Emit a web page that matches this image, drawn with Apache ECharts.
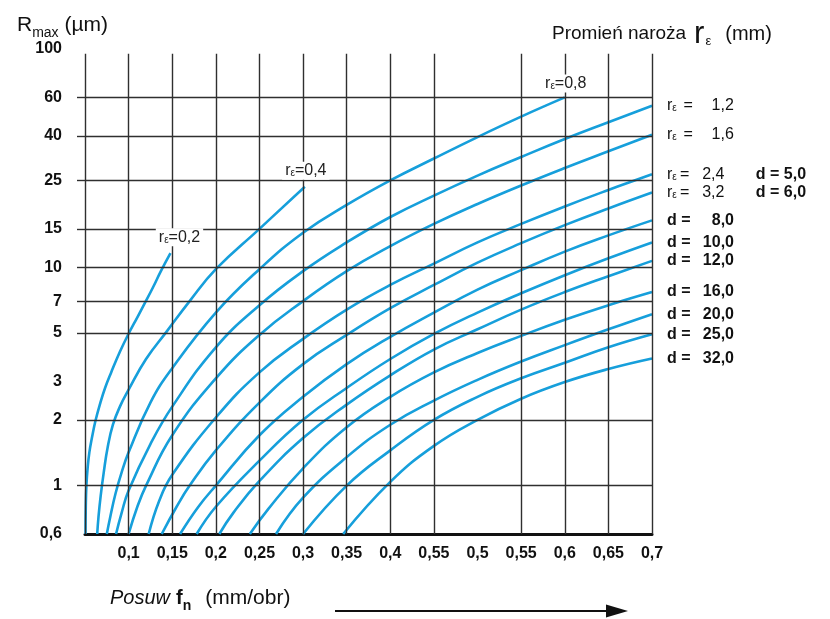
<!DOCTYPE html>
<html>
<head>
<meta charset="utf-8">
<script src="https://cdn.jsdelivr.net/npm/echarts@6/dist/echarts.min.js"></script>
<style>html,body{margin:0;padding:0;background:#fff;}#chart{width:830px;height:619px;}</style>
</head>
<body>
<div id="chart"></div>
<script>
// ---- data ----
const xTickLabels = ['', '0,1', '0,15', '0,2', '0,25', '0,3', '0,35', '0,4', '0,55', '0,5', '0,55', '0,6', '0,65', '0,7'];
const yLabelValues = [0.6, 1, 2, 3, 5, 7, 10, 15, 25, 40, 60, 100];
const yGridValues = [1, 2, 5, 7, 10, 15, 25, 40, 60];
const xGridValues = [0.05, 0.1, 0.15, 0.2, 0.25, 0.3, 0.35, 0.4, 0.45, 0.55, 0.6, 0.65, 0.7];
const gridTopValue = 95;

const c02 = [[0.0506,0.6],[0.0509,0.8],[0.0516,1.0],[0.053,1.2],[0.055,1.42],[0.058,1.66],[0.062,1.98],[0.067,2.35],[0.073,2.8],[0.08,3.3],[0.09,4.1],[0.0993,4.9],[0.11,5.9],[0.119,6.9],[0.128,8.1],[0.137,9.6],[0.148,11.6]];
const c04 = [[0.064,0.6],[0.0655,0.72],[0.068,0.9],[0.0715,1.15],[0.076,1.5],[0.082,1.9],[0.09,2.3],[0.1,2.75],[0.12,3.8],[0.144,5.1],[0.17,7.0],[0.2,9.8],[0.25,15.0],[0.302,23.4]];
const c08 = [[0.075,0.6],[0.079,0.72],[0.085,0.92],[0.092,1.15],[0.1,1.42],[0.125,2.4],[0.15,3.45],[0.2,6.2],[0.25,9.8],[0.3,14.4],[0.35,19.3],[0.4,25.0],[0.45,31.5],[0.5,39.5],[0.55,49.0],[0.6,60.0]];
const c12 = [[0.0856,0.6],[0.092,0.75],[0.1,0.95],[0.125,1.55],[0.15,2.3],[0.2,4.3],[0.25,6.7],[0.3,9.6],[0.35,13.0],[0.4,17.0],[0.45,21.3],[0.5,26.3],[0.55,32.0],[0.6,38.7],[0.65,46.2],[0.7,55.0]];
const c16 = [[0.1,0.6],[0.11,0.8],[0.12,1.0],[0.15,1.7],[0.2,3.1],[0.25,4.9],[0.3,7.0],[0.35,9.6],[0.4,12.5],[0.45,15.8],[0.5,19.5],[0.55,23.7],[0.6,28.5],[0.65,34.0],[0.7,40.5]];
const c24 = [[0.123,0.6],[0.135,0.85],[0.15,1.12],[0.2,2.05],[0.25,3.3],[0.3,4.7],[0.35,6.4],[0.4,8.3],[0.45,10.4],[0.5,13.0],[0.55,15.8],[0.6,19.0],[0.65,22.6],[0.7,26.7]];
const c32 = [[0.138,0.6],[0.155,0.8],[0.17,1.0],[0.2,1.45],[0.25,2.4],[0.3,3.6],[0.35,4.9],[0.4,6.5],[0.45,8.3],[0.5,10.5],[0.55,12.9],[0.6,15.6],[0.65,18.6],[0.7,22.0]];
const c40 = [[0.159,0.6],[0.18,0.8],[0.2,1.0],[0.25,1.7],[0.3,2.55],[0.35,3.6],[0.4,4.8],[0.45,6.2],[0.5,7.9],[0.55,9.7],[0.6,11.8],[0.65,14.0],[0.7,16.4]];
const c50 = [[0.178,0.6],[0.2,0.8],[0.25,1.3],[0.3,2.0],[0.35,2.8],[0.4,3.8],[0.45,4.95],[0.5,6.2],[0.55,7.6],[0.6,9.2],[0.65,11.0],[0.7,13.0]];
const c60 = [[0.204,0.6],[0.22,0.75],[0.25,1.05],[0.3,1.65],[0.35,2.35],[0.4,3.2],[0.45,4.2],[0.5,5.2],[0.55,6.4],[0.6,7.7],[0.65,9.1],[0.7,10.7]];
const c80 = [[0.239,0.6],[0.26,0.78],[0.3,1.2],[0.35,1.85],[0.4,2.55],[0.45,3.3],[0.5,4.05],[0.55,4.85],[0.6,5.75],[0.65,6.7],[0.7,7.7]];
const c100 = [[0.269,0.6],[0.3,0.88],[0.35,1.35],[0.4,1.9],[0.45,2.45],[0.5,3.05],[0.55,3.7],[0.6,4.4],[0.65,5.2],[0.7,6.1]];
const c125 = [[0.30,0.6],[0.35,1.0],[0.4,1.45],[0.45,2.0],[0.5,2.55],[0.55,3.1],[0.6,3.65],[0.65,4.3],[0.7,4.93]];
const c160 = [[0.346,0.6],[0.4,1.04],[0.45,1.52],[0.5,2.0],[0.55,2.5],[0.6,2.98],[0.65,3.42],[0.7,3.82]];

const curves = [c02, c04, c08, c12, c16, c24, c32, c40, c50, c60, c80, c100, c125, c160];
const seriesNames = ['rε=0,2','rε=0,4','rε=0,8','rε=1,2','rε=1,6','rε=2,4 d=5,0','rε=3,2 d=6,0','d=8,0','d=10,0','d=12,0','d=16,0','d=20,0','d=25,0','d=32,0'];
const topLabels = ['{r|r}{e|ε}{t|=0,2}', '{r|r}{e|ε}{t|=0,4}', '{r|r}{e|ε}{t|=0,8}'];
const rightLabels = [null, null, null,
  '{r|r}{e|ε}{q|=}{v|1,2}',
  '{r|r}{e|ε}{q|=}{v|1,6}',
  '{r|r}{e|ε}{q|=}{v|2,4}{d|d = 5,0}',
  '{r|r}{e|ε}{q|=}{v|3,2}{d|d = 6,0}',
  '{k|d =}{w|8,0}', '{k|d =}{w|10,0}', '{k|d =}{w|12,0}', '{k|d =}{w|16,0}',
  '{k|d =}{w|20,0}', '{k|d =}{w|25,0}', '{k|d =}{w|32,0}'];

// ---- chart ----
const FONT = 'Liberation Sans, Arial, Helvetica, sans-serif';
const CURVE = '#169fdb';
const GRIDC = '#2f2f2f';

const richRight = {
  r: {fontSize: 16, color: '#111', fontFamily: FONT},
  e: {fontSize: 10, color: '#111', fontFamily: FONT, verticalAlign: 'bottom', lineHeight: 14},
  q: {fontSize: 16, color: '#111', fontFamily: FONT, width: 16, align: 'right'},
  v: {fontSize: 16, color: '#111', fontFamily: FONT, width: 41, align: 'right'},
  d: {fontSize: 16, color: '#111', fontFamily: FONT, fontWeight: 'bold', padding: [0, 0, 0, 22]},
  k: {fontSize: 16, color: '#111', fontFamily: FONT, fontWeight: 'bold', width: 27},
  w: {fontSize: 16, color: '#111', fontFamily: FONT, fontWeight: 'bold', width: 40, align: 'right'}
};
const richTop = {
  r: {fontSize: 16, color: '#222', fontFamily: FONT},
  e: {fontSize: 10, color: '#222', fontFamily: FONT, verticalAlign: 'bottom', lineHeight: 14},
  t: {fontSize: 16, color: '#222', fontFamily: FONT}
};
const topOffsets = [[9, 0], [1, 0], [1, 2]];

const series = [];
// grid lines (drawn through the axes' scales)
series.push({
  type: 'line', data: [], z: 1, silent: true,
  markLine: {
    silent: true, symbol: 'none', animation: false,
    label: {show: false},
    lineStyle: {color: GRIDC, width: 1.4, type: 'solid'},
    data: yGridValues.map(v => ({yAxis: v}))
      .concat(xGridValues.map(x => [{coord: [x, 0.6]}, {coord: [x, gridTopValue]}]))
  }
});

curves.forEach((c, i) => {
  const s = {
    name: seriesNames[i], type: 'line', data: c, smooth: 0.45, symbol: 'none', z: 3,
    lineStyle: {color: CURVE, width: 2.6}
  };
  if (rightLabels[i]) {
    s.endLabel = {show: true, formatter: rightLabels[i], distance: 15, rich: richRight, color: '#111'};
  }
  if (i < 3) {
    s.markPoint = {
      symbol: 'circle', symbolSize: 0, silent: true,
      data: [{coord: c[c.length - 1]}],
      label: {show: true, position: 'top', distance: 7, formatter: topLabels[i], rich: richTop,
        backgroundColor: '#fff', padding: [1, 3, 1, 3], offset: topOffsets[i]}
    };
  }
  series.push(s);
});

const option = {
  animation: false,
  backgroundColor: '#fff',
  textStyle: {fontFamily: FONT},
  grid: {left: 85, right: 178, top: 49, bottom: 85},
  title: [
    {left: 12, top: 5, text: '{a|R}{b|max}{a| (µm)}',
      textStyle: {fontWeight: 'normal', rich: {
        a: {fontSize: 21, fontWeight: 'normal', color: '#111', fontFamily: FONT, lineHeight: 30, verticalAlign: 'middle'},
        b: {fontSize: 14, fontWeight: 'normal', color: '#111', fontFamily: FONT, verticalAlign: 'bottom', lineHeight: 14}
      }}},
    {left: 547, top: 15, text: '{a|Promień naroża}{r|r}{e|ε}{m|(mm)}',
      textStyle: {fontWeight: 'normal', rich: {
        a: {fontSize: 19, fontWeight: 'normal', color: '#111', fontFamily: FONT, lineHeight: 28, verticalAlign: 'middle'},
        r: {fontSize: 31, fontWeight: 'normal', color: '#111', fontFamily: FONT, lineHeight: 28, verticalAlign: 'middle', padding: [0, 1, 0, 8]},
        e: {fontSize: 13, fontWeight: 'normal', color: '#111', fontFamily: FONT, verticalAlign: 'bottom', lineHeight: 15},
        m: {fontSize: 20, fontWeight: 'normal', color: '#111', fontFamily: FONT, lineHeight: 28, verticalAlign: 'middle', padding: [0, 0, 0, 14]}
      }}},
    {left: 105, top: 578, text: '{i|Posuw}{f|f}{n|n}{m|(mm/obr)}',
      textStyle: {fontWeight: 'normal', rich: {
        i: {fontSize: 20, fontWeight: 'normal', color: '#111', fontFamily: FONT, fontStyle: 'italic', lineHeight: 30, verticalAlign: 'middle'},
        f: {fontSize: 20, fontWeight: 'bold', color: '#111', fontFamily: FONT, lineHeight: 30, verticalAlign: 'middle', padding: [0, 0, 0, 6]},
        n: {fontSize: 14, fontWeight: 'bold', color: '#111', fontFamily: FONT, verticalAlign: 'bottom', lineHeight: 16},
        m: {fontSize: 21, fontWeight: 'normal', color: '#111', fontFamily: FONT, lineHeight: 30, verticalAlign: 'middle', padding: [0, 0, 0, 14]}
      }}}
  ],
  xAxis: {
    type: 'value', min: 0.05, max: 0.7, interval: 0.05,
    axisLine: {show: true, onZero: false, lineStyle: {color: '#111', width: 3}},
    axisTick: {show: false},
    splitLine: {show: false},
    axisLabel: {
      show: true, color: '#111', fontSize: 16, fontWeight: 'bold', margin: 12,
      showMinLabel: true, showMaxLabel: true,
      formatter: v => xTickLabels[Math.round((v - 0.05) / 0.05)] || ''
    }
  },
  yAxis: {
    type: 'log', logBase: 10, min: 0.6, max: 100,
    axisLine: {show: false},
    splitLine: {show: false},
    axisTick: {show: true, customValues: yGridValues, length: 8, lineStyle: {color: GRIDC, width: 1.4}},
    axisLabel: {
      customValues: yLabelValues, color: '#111', fontSize: 16, fontWeight: 'bold', margin: 23,
      showMinLabel: true, showMaxLabel: true,
      formatter: v => String(Math.round(v * 10) / 10).replace('.', ',')
    }
  },
  graphic: [
    {type: 'line', shape: {x1: 335, y1: 611, x2: 612, y2: 611}, style: {stroke: '#111', lineWidth: 2}},
    {type: 'polygon', shape: {points: [[606, 604.5], [628, 611], [606, 617.5]]}, style: {fill: '#111'}}
  ],
  series: series
};

const chart = echarts.init(document.getElementById('chart'), null, {renderer: 'canvas'});
chart.setOption(option);
</script>
</body>
</html>
